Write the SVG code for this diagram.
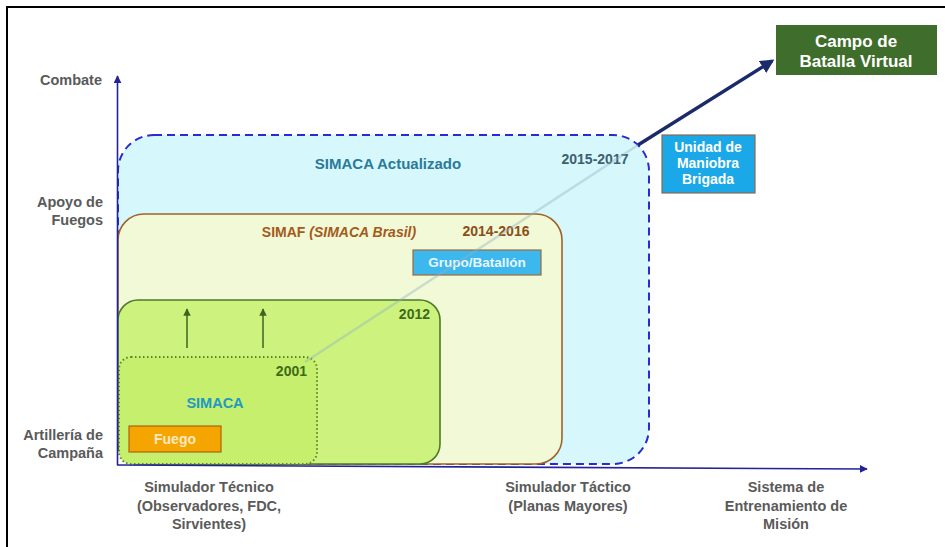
<svg xmlns="http://www.w3.org/2000/svg" width="945" height="547" viewBox="0 0 945 547">
<defs>
<style>
text{font-family:"Liberation Sans",Arial,sans-serif;font-weight:bold;font-size:14px}
.ax{fill:#5a5a5a;font-size:14.5px}
.mid{text-anchor:middle}
.end{text-anchor:end}
</style>
<marker id="axh" viewBox="0 0 10 10" refX="9" refY="5" markerWidth="5" markerHeight="5" orient="auto"><path d="M0,0L10,5L0,10z" fill="#22229a"/></marker>
<marker id="gh" viewBox="0 0 10 10" refX="9" refY="5" markerWidth="5" markerHeight="5" orient="auto"><path d="M0,0L10,5L0,10z" fill="#3d6420"/></marker>
<marker id="nh" viewBox="0 0 10 10" refX="8" refY="5" markerWidth="4" markerHeight="4" orient="auto"><path d="M0,0L10,5L0,10z" fill="#1b2a6a"/></marker>
</defs>
<rect x="0" y="0" width="945" height="547" fill="#ffffff"/>
<rect x="7" y="7" width="960" height="560" fill="none" stroke="#000" stroke-width="2"/>

<g id="simaca-actualizado">
<rect x="118" y="135" width="531" height="329" rx="36" fill="#d6f8fc" stroke="#2a2ad0" stroke-width="2" stroke-dasharray="8 5"/>
<text x="388" y="169" class="mid" fill="#2b7a99" style="font-size:15px">SIMACA Actualizado</text>
<text x="595" y="164" class="mid" fill="#3d5f70">2015-2017</text>
</g>
<g id="simaf">
<rect x="118" y="214" width="444" height="250" rx="26" fill="#f2f9d6" stroke="#a0622a" stroke-width="1.6"/>
<text x="339" y="237" class="mid" fill="#a45a1c">SIMAF <tspan font-style="italic">(SIMACA Brasil)</tspan></text>
<text x="496" y="236" class="mid" fill="#8a4e18">2014-2016</text>
</g>
<g id="grupo">
<rect x="413" y="250" width="128" height="25" fill="#3cb8ee" stroke="#9a6a3a" stroke-width="1.2"/>
<text x="477" y="267" class="mid" fill="#e8f6ff" style="font-size:13.5px">Grupo/Batallón</text>
</g>
<g id="y2012">
<rect x="118" y="300" width="322" height="164" rx="20" fill="#cdf27e" stroke="#4d7a2a" stroke-width="1.6"/>
<text x="430" y="319" class="end" fill="#3e6a1a">2012</text>
</g>
<g id="y2001">
<rect x="119" y="357" width="198" height="107" rx="12" fill="#c5ef6c" stroke="#5a8a2a" stroke-width="2" stroke-dasharray="1.5 2.5"/>
<text x="307" y="376" class="end" fill="#3e6a1a">2001</text>
<text x="215" y="408" class="mid" fill="#1e9ac4" style="font-size:14.5px">SIMACA</text>
</g>
<g id="fuego">
<rect x="129" y="426" width="92" height="26" fill="#f5a500" stroke="#b06010" stroke-width="1.2"/>
<text x="175" y="444" class="mid" fill="#fde9c0">Fuego</text>
</g>
<g id="unidad">
<rect x="662" y="135" width="93" height="58" fill="#1aa8e8" stroke="#8a6a4a" stroke-width="1.2"/>
<text x="708" y="152" class="mid" fill="#ffffff">Unidad de</text>
<text x="708" y="168" class="mid" fill="#ffffff">Maniobra</text>
<text x="708" y="184" class="mid" fill="#ffffff">Brigada</text>
</g>
<g id="campo">
<rect x="776" y="25" width="161" height="50" fill="#3f6d2c"/>
<text x="856" y="47" class="mid" fill="#ffffff" style="font-size:17px">Campo de</text>
<text x="856" y="67" class="mid" fill="#ffffff" style="font-size:17px">Batalla Virtual</text>
</g>

<g id="connectors">
<line x1="305" y1="362" x2="638" y2="145" stroke="#8fb3c4" stroke-width="2.5" opacity="0.4"/>
<line x1="638" y1="145" x2="772" y2="61" stroke="#1b2a6a" stroke-width="3.5" marker-end="url(#nh)"/>
<line x1="187" y1="348" x2="187" y2="309" stroke="#3d6420" stroke-width="1.5" marker-end="url(#gh)"/>
<line x1="263" y1="348" x2="263" y2="309" stroke="#3d6420" stroke-width="1.5" marker-end="url(#gh)"/>
<line x1="117.5" y1="465" x2="117.5" y2="76" stroke="#22229a" stroke-width="1.6" marker-end="url(#axh)"/>
<line x1="117" y1="465" x2="867" y2="469" stroke="#22229a" stroke-width="1.6" marker-end="url(#axh)"/>
</g>

<g id="axis-labels">
<text x="102" y="85" class="end ax">Combate</text>
<text x="103" y="207" class="end ax">Apoyo de</text>
<text x="103" y="225" class="end ax">Fuegos</text>
<text x="103" y="440" class="end ax">Artillería de</text>
<text x="103" y="458" class="end ax">Campaña</text>
<text x="209" y="492" class="mid ax">Simulador Técnico</text>
<text x="209" y="511" class="mid ax">(Observadores, FDC,</text>
<text x="209" y="529" class="mid ax">Sirvientes)</text>
<text x="568" y="492" class="mid ax">Simulador Táctico</text>
<text x="568" y="511" class="mid ax">(Planas Mayores)</text>
<text x="786" y="492" class="mid ax">Sistema de</text>
<text x="786" y="511" class="mid ax">Entrenamiento de</text>
<text x="786" y="529" class="mid ax">Misión</text>
</g>
</svg>
